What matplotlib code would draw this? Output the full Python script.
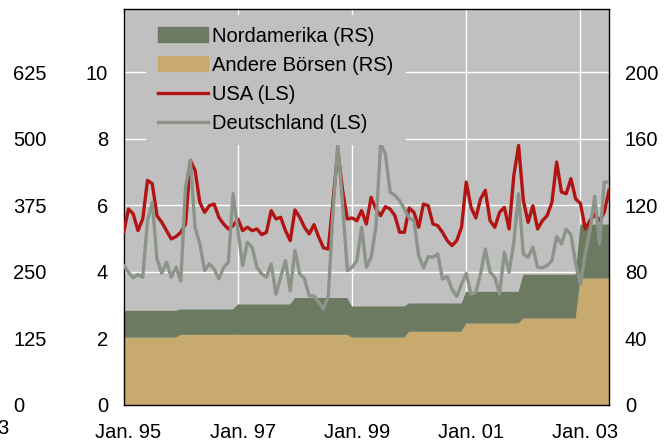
import numpy as np
import matplotlib.pyplot as plt
from matplotlib.patches import Patch
from matplotlib.lines import Line2D
from matplotlib.ticker import FixedLocator, FixedFormatter, NullFormatter

plt.rcParams['font.family'] = ['Liberation Sans', 'DejaVu Sans']
plt.rcParams['font.size'] = 14.5

# Monatswerte Jan. 1995 - Jul. 2003 (linke Skala)
usa = [5.19, 5.89, 5.74, 5.24, 5.59, 6.75, 6.65, 5.69, 5.49, 5.24, 4.99, 5.06,
       5.19, 5.44, 7.35, 7.05, 6.09, 5.79, 5.99, 6.04, 5.64, 5.44, 5.29, 5.39,
       5.59, 5.24, 5.34, 5.24, 5.29, 5.12, 5.19, 5.84, 5.59, 5.64, 5.24, 4.94,
       5.86, 5.64, 5.34, 5.14, 5.42, 5.04, 4.72, 4.69, 6.14, 7.65, 6.45, 5.59,
       5.62, 5.54, 5.84, 5.44, 6.24, 5.89, 5.69, 5.96, 5.89, 5.69, 5.19, 5.19,
       5.92, 5.79, 5.34, 6.04, 5.99, 5.44, 5.39, 5.19, 4.94, 4.79, 4.94, 5.34,
       6.70, 5.94, 5.62, 6.19, 6.45, 5.54, 5.34, 5.79, 5.94, 5.29, 6.90, 7.80,
       6.14, 5.49, 5.99, 5.29, 5.54, 5.69, 6.09, 7.30, 6.40, 6.35, 6.80, 6.19,
       6.06, 5.29, 5.54, 5.72, 5.54, 5.79, 6.45]
deutschland = [4.19, 3.99, 3.82, 3.92, 3.84, 5.54, 6.09, 4.39, 3.96, 4.29, 3.84, 4.14,
               3.73, 6.55, 7.35, 5.34, 4.84, 4.04, 4.24, 4.09, 3.79, 4.14, 4.29, 6.35,
               5.24, 4.19, 4.89, 4.74, 4.14, 3.94, 3.84, 4.24, 3.33, 3.84, 4.34, 3.43,
               4.64, 3.94, 3.79, 3.28, 3.28, 3.08, 2.88, 3.28, 5.84, 7.85, 6.04, 4.04,
               4.14, 4.34, 5.34, 4.14, 4.44, 5.34, 7.85, 7.55, 6.40, 6.30, 6.14, 5.89,
               5.62, 5.54, 4.49, 4.12, 4.46, 4.44, 4.54, 3.79, 3.86, 3.48, 3.26, 3.63,
               3.96, 3.33, 3.38, 3.94, 4.69, 3.99, 3.84, 3.33, 4.59, 3.99, 4.89, 6.35,
               4.54, 4.44, 4.74, 4.14, 4.12, 4.19, 4.34, 5.06, 4.84, 5.28, 5.12, 4.24,
               3.63, 4.54, 5.24, 6.27, 4.84, 6.70, 6.70]

# Jahreswerte 1995-2003 (rechte Skala)
jahre = list(range(1995, 2004))
andere = [40.5, 42.2, 42.2, 42.2, 40.5, 44.0, 49.0, 52.0, 76.0]
nordamerika = [16.1, 15.2, 18.2, 22.1, 18.7, 17.0, 19.0, 26.3, 32.4]

n = len(usa)
x = np.arange(n)
andere_m = np.repeat(andere, 12)[:n]
nordam_m = np.repeat(nordamerika, 12)[:n]

xlabels = ["Jan. 95", "Jan. 97", "Jan. 99", "Jan. 01", "Jan. 03"]

bg = '#C0C0C0'
c_green = '#6B7A60'
c_tan = '#C8AA6E'
c_red = '#B21414'
c_gray = '#8C948A'

fig = plt.figure(figsize=(6.68, 4.45), dpi=100)
ax = fig.add_axes([123.7 / 668, 40 / 445, 485.3 / 668, 396 / 445])
ax.set_facecolor(bg)

# Flächen (rechte Skala)
ax.stackplot(x, andere_m, nordam_m, colors=[c_tan, c_green], linewidth=0)
ax.set_xlim(0, n - 1)
ax.set_ylim(0, 238)
ax.xaxis.set_major_locator(FixedLocator([0, 24, 48, 72, 96]))
ax.xaxis.set_major_formatter(NullFormatter())
ax.xaxis.set_minor_locator(FixedLocator([1, 25, 49, 73, 97]))
ax.xaxis.set_minor_formatter(FixedFormatter(xlabels))
ax.tick_params(axis='x', which='both', length=0, pad=13)
ax.set_axisbelow(True)
ax.grid(True, which='major', color='white', linewidth=1)
for s in ax.spines.values():
    s.set_color('black')
    s.set_linewidth(1)

# Linien (linke Skala)
axl = ax.twinx()
axl.plot(x, usa, color=c_red, linewidth=2.4)
axl.plot(x, deutschland, color=c_gray, linewidth=2.4)
axl.set_ylim(0, 11.9)
axl.yaxis.tick_left()
axl.set_yticks([0, 2, 4, 6, 8, 10])
axl.tick_params(axis='y', length=0, pad=11.3)
for s in axl.spines.values():
    s.set_visible(False)

# äußere linke Skala
axo = ax.twinx()
axo.set_ylim(0, 11.9 * 62.5)
axo.yaxis.tick_left()
axo.set_yticks([0, 125, 250, 375, 500, 625])
axo.tick_params(axis='y', length=0, pad=79.7)
for t in axo.get_yticklabels():
    t.set_horizontalalignment('left')
for s in axo.spines.values():
    s.set_visible(False)

# rechte Skala erst nach twinx setzen
ax.yaxis.tick_right()
ax.set_yticks([0, 40, 80, 120, 160, 200])
ax.tick_params(axis='y', length=0, pad=11.5)

handles = [Patch(color=c_green), Patch(color=c_tan),
           Line2D([], [], color=c_red, linewidth=2.4),
           Line2D([], [], color=c_gray, linewidth=2.4)]
labels = ["Nordamerika (RS)", "Andere Börsen (RS)", "USA (LS)", "Deutschland (LS)"]
axl.legend(handles, labels, loc='upper left', bbox_to_anchor=(0.046, 0.986),
           borderaxespad=0, frameon=True, facecolor=bg, edgecolor='none',
           framealpha=1, fancybox=False, handlelength=2.5, handleheight=0.75,
           handletextpad=0.2, labelspacing=0.5, borderpad=0.6)

fig.text(-0.004, 0.025, "3", ha='left', va='baseline')

fig.savefig("out.png", dpi=100)
